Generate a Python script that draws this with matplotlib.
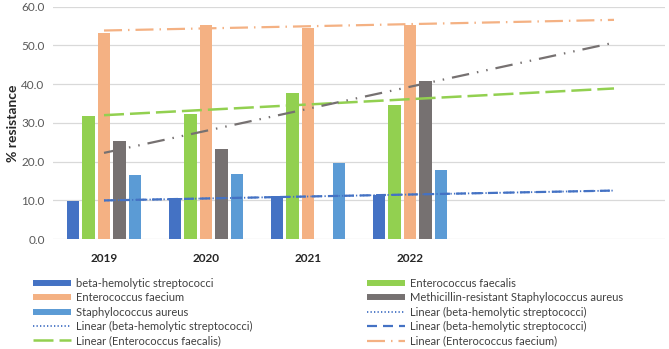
import numpy as np
import matplotlib
matplotlib.use('Agg')
import matplotlib.pyplot as plt
from matplotlib.lines import Line2D

plt.rcParams['font.family'] = ['Lato', 'DejaVu Sans']
plt.rcParams['lines.scale_dashes'] = False

years = ['2019', '2020', '2021', '2022']
beta = [9.9, 10.5, 11.1, 11.4]
faecalis = [31.8, 32.2, 37.6, 34.6]
faecium = [53.3, 55.4, 54.6, 55.4]
mrsa = [25.4, 23.2, np.nan, 40.9]
aureus = [16.5, 16.8, 19.6, 17.8]

series_names = ['beta-hemolytic streptococci', 'Enterococcus faecalis', 'Enterococcus faecium',
                'Methicillin-resistant Staphylococcus aureus', 'Staphylococcus aureus']
series_vals = [beta, faecalis, faecium, mrsa, aureus]
colors = ['#4472C4', '#92D050', '#F4B183', '#767171', '#5B9BD5']
forecast_end = 6  # trend lines extended forward two periods

fig = plt.figure(figsize=(6.69, 3.49), dpi=100)
ax = fig.add_axes([53/669, 1-239/349, (665-53)/669, (239-6.7)/349])

x = np.arange(1, len(years)+1)
bw = 0.12
step = 0.152
for i, (vals, c) in enumerate(zip(series_vals, colors)):
    ax.bar(x + (i-2)*step, vals, width=bw, color=c, zorder=2)

def trend(vals):
    v = np.array(vals, dtype=float)
    m = ~np.isnan(v)
    p = np.polyfit(x[m], v[m], 1)
    xs = np.array([1, forecast_end])
    return xs, np.polyval(p, xs)

pt = 0.72
styles = {
    'beta_dot': dict(color=colors[0], lw=1.3, dashes=(1.3*pt, 2.2*pt)),
    'beta_dash': dict(color=colors[0], lw=1.6, dashes=(10*pt, 6*pt)),
    'faecalis': dict(color=colors[1], lw=1.8, dashes=(20*pt, 6*pt)),
    'faecium': dict(color=colors[2], lw=1.6, dashes=(18*pt, 6*pt, 1.5*pt, 6*pt)),
    'mrsa': dict(color=colors[3], lw=1.6, dashes=(17.5*pt, 8*pt, 1.5*pt, 8*pt, 1.5*pt, 8*pt)),
}
xs, ys = trend(beta)
ax.plot(xs, ys, zorder=3, **styles['beta_dot'])
ax.plot(xs, ys, zorder=3, **styles['beta_dash'])
xs, ys = trend(faecalis)
ax.plot(xs, ys, zorder=3, **styles['faecalis'])
xs, ys = trend(faecium)
ax.plot(xs, ys, zorder=3, **styles['faecium'])
xs, ys = trend(mrsa)
ax.plot(xs, ys, zorder=3, **styles['mrsa'])

ax.set_xlim(0.5, 6.5)
ax.set_ylim(0, 60)
ax.set_yticks(np.arange(0, 61, 10))
ax.set_yticklabels([f'{v:.1f}' for v in np.arange(0, 61, 10)], fontsize=8.5, color='#595959')
ax.set_xticks(x)
ax.set_xticklabels(years, fontsize=8.5, fontweight='bold', color='#262626')
ax.tick_params(length=0, pad=10)
ax.tick_params(axis='y', pad=6)
ax.grid(axis='y', color='#D9D9D9', lw=0.9, zorder=0)
ax.set_axisbelow(True)
for s in ax.spines.values():
    s.set_visible(False)
ax.set_ylabel('% resistance', fontsize=10, fontweight='bold', color='#262626', labelpad=1.5)

bar_h = lambda c: Line2D([], [], color=c, lw=4.3, solid_capstyle='butt')
left_handles = [bar_h(colors[0]), bar_h(colors[2]), bar_h(colors[4]),
                Line2D([], [], **styles['beta_dot']), Line2D([], [], **styles['faecalis'])]
left_labels = [series_names[0], series_names[2], series_names[4],
               'Linear (beta-hemolytic streptococci)', 'Linear (Enterococcus faecalis)']
right_handles = [bar_h(colors[1]), bar_h(colors[3]),
                 Line2D([], [], **styles['beta_dot']), Line2D([], [], **styles['beta_dash']),
                 Line2D([], [], **styles['faecium'])]
right_labels = [series_names[1], series_names[3],
                'Linear (beta-hemolytic streptococci)', 'Linear (beta-hemolytic streptococci)',
                'Linear (Enterococcus faecium)']
kw = dict(loc='upper left', frameon=False, fontsize=8, borderpad=0, borderaxespad=0,
          handlelength=3.4, handletextpad=0.5, labelspacing=0.3, labelcolor='#404040')
fig.legend(left_handles, left_labels, bbox_to_anchor=(33/669, 1-278/349), **kw)
fig.legend(right_handles, right_labels, bbox_to_anchor=(367/669, 1-278/349), **kw)

fig.savefig('out.png', dpi=100)
